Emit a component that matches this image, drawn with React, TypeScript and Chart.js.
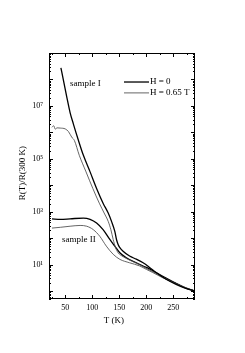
import React, { useEffect, useRef } from "react";
import { Chart, registerables } from "chart.js";

Chart.register(...registerables);

// ---- data (T in K, R(T)/R(300 K)) ----
const sampleI_H0_T = [42, 47, 53, 59, 65, 74.5, 83.6, 96, 108, 120, 129.5, 135.6, 141.7, 144.8, 147.8, 151, 157, 169, 181.5, 194, 206, 218, 236.5, 255, 273, 290];
const sampleI_H0_R = [2.75e8, 8.7e7, 2.1e7, 5.6e6, 2.1e6, 4.9e5, 1.35e5, 3.2e4, 7600, 2100, 890, 430, 180, 89, 58, 44, 32, 21, 16, 11.7, 7.8, 5.0, 2.8, 1.8, 1.26, 1.0];

const sampleI_H065_T = [25.5, 28.6, 31.7, 34.7, 40.8, 50, 56, 62, 67, 76, 88.5, 101, 113, 122, 129.5, 134.4, 138.7, 143, 147.8, 157, 172, 187.6, 206, 224, 242.6, 267, 290];
const sampleI_H065_R = [1.55e6, 1.78e6, 1.32e6, 1.48e6, 1.45e6, 1.35e6, 1.07e6, 6.6e5, 4.9e5, 1.35e5, 3.2e4, 7600, 2100, 890, 430, 210, 89, 44, 28, 20, 13.8, 9.8, 6.2, 4.0, 2.45, 1.5, 1.0];

const sampleII_H0_T = [25.5, 41, 59, 83.6, 96, 108, 120, 132.5, 141.7, 151, 163, 181.5, 200, 218, 236.5, 255, 273, 290];
const sampleII_H0_R = [537, 513, 537, 575, 513, 372, 209, 89, 50, 28, 18.2, 11.7, 7.8, 5.0, 3.1, 1.95, 1.29, 1.0];

const sampleII_H065_T = [25.5, 41, 59, 77.5, 89.7, 102, 114, 126, 138.7, 151, 169, 187.6, 200, 212, 230, 255, 273, 290];
const sampleII_H065_R = [240, 257, 282, 302, 282, 209, 117, 50, 24.5, 15.8, 11.7, 8.9, 6.6, 5.0, 3.2, 1.95, 1.29, 1.0];

const xTickValues = [50, 100, 150, 200, 250];
const yTickValues = [10, 1e3, 1e5, 1e7];
const yTickLabels = ["10\u00B9", "10\u00B3", "10\u2075", "10\u2077"];
const legendLabels = ["H = 0", "H = 0.65 T"];
const sampleLabels = ["sample I", "sample II"];
const xTitle = "T (K)";
const yTitle = "R(T)/R(300 K)";

const X_MIN = 20, X_MAX = 290, Y_MIN = 0.5, Y_MAX = 1e9;
const FONT = "'Liberation Serif', 'DejaVu Serif', serif";
const THICK = { color: "#000", width: 1.3 };
const THIN = { color: "#555", width: 0.9 };

const pts = (t: number[], r: number[]) => t.map((x, i) => ({ x, y: r[i] }));

const framePlugin = {
  id: "frame",
  afterDraw(chart: any) {
    const { ctx, chartArea: a, scales } = chart;
    const xs = scales.x, ys = scales.y;
    ctx.save();
    ctx.strokeStyle = "#000";
    ctx.lineWidth = 1;
    ctx.strokeRect(a.left + 0.5, a.top + 0.5, a.right - a.left - 1, a.bottom - a.top - 1);
    ctx.beginPath();
    // x ticks (inward, bottom and top)
    for (let t = 25; t <= X_MAX; t += 25) {
      if (t < X_MIN) continue;
      const px = Math.round(xs.getPixelForValue(t)) + 0.5;
      const len = t % 50 === 0 ? 4 : 2;
      ctx.moveTo(px, a.bottom); ctx.lineTo(px, a.bottom - len);
      ctx.moveTo(px, a.top); ctx.lineTo(px, a.top + len);
    }
    // y ticks (log, inward, left and right)
    for (let e = -1; e <= 9; e++) {
      for (let m = 1; m <= 9; m++) {
        const v = m * Math.pow(10, e);
        if (v < Y_MIN || v > Y_MAX) continue;
        const py = Math.round(ys.getPixelForValue(v)) + 0.5;
        const len = m === 1 ? 4 : 2;
        ctx.moveTo(a.left, py); ctx.lineTo(a.left + len, py);
        ctx.moveTo(a.right, py); ctx.lineTo(a.right - len, py);
      }
    }
    ctx.stroke();

    // axis titles
    ctx.fillStyle = "#000";
    ctx.font = `9px ${FONT}`;
    ctx.textAlign = "center";
    ctx.textBaseline = "middle";
    ctx.fillText(xTitle, xs.getPixelForValue(140), 321);
    ctx.save();
    ctx.translate(23, ys.getPixelForValue(2.9e4));
    ctx.rotate(-Math.PI / 2);
    ctx.fillText(yTitle, 0, 0);
    ctx.restore();

    // legend
    const lx0 = xs.getPixelForValue(158.7), lx1 = xs.getPixelForValue(205);
    const rows = [ys.getPixelForValue(8e7), ys.getPixelForValue(3.1e7)];
    const styles = [THICK, THIN];
    ctx.textAlign = "left";
    rows.forEach((ry, i) => {
      ctx.beginPath();
      ctx.strokeStyle = styles[i].color;
      ctx.lineWidth = styles[i].width;
      ctx.moveTo(lx0, ry); ctx.lineTo(lx1, ry);
      ctx.stroke();
      ctx.fillText(legendLabels[i], lx1 + 1, ry);
    });

    // sample labels
    ctx.fillText(sampleLabels[0], xs.getPixelForValue(58.8), ys.getPixelForValue(6.7e7));
    ctx.fillText(sampleLabels[1], xs.getPixelForValue(44), ys.getPixelForValue(89));
    ctx.restore();
  },
};

export default function App() {
  const ref = useRef<HTMLCanvasElement>(null);
  useEffect(() => {
    if (!ref.current) return;
    const mk = (label: string, t: number[], r: number[], s: { color: string; width: number }) => ({
      label,
      data: pts(t, r),
      borderColor: s.color,
      borderWidth: s.width,
      pointRadius: 0,
      fill: false,
      cubicInterpolationMode: "monotone" as const,
    });
    const chart = new Chart(ref.current, {
      type: "line",
      data: {
        datasets: [
          mk("sample I, H = 0", sampleI_H0_T, sampleI_H0_R, THICK),
          mk("sample I, H = 0.65 T", sampleI_H065_T, sampleI_H065_R, THIN),
          mk("sample II, H = 0", sampleII_H0_T, sampleII_H0_R, THICK),
          mk("sample II, H = 0.65 T", sampleII_H065_T, sampleII_H065_R, THIN),
        ],
      },
      options: {
        responsive: false,
        animation: false,
        layout: { padding: { left: 0, top: 53, right: 50, bottom: 0 } },
        plugins: { legend: { display: false }, tooltip: { enabled: false } },
        scales: {
          x: {
            type: "linear",
            min: X_MIN,
            max: X_MAX,
            grid: { display: false, drawTicks: false },
            border: { display: false },
            afterBuildTicks: (s: any) => { s.ticks = xTickValues.map((value) => ({ value })); },
            afterFit: (s: any) => { s.height = 54; },
            ticks: {
              color: "#000",
              font: { family: FONT, size: 8 },
              padding: 4,
              maxRotation: 0,
              autoSkip: false,
              callback: (v: any) => String(v),
            },
          },
          y: {
            type: "logarithmic",
            min: Y_MIN,
            max: Y_MAX,
            grid: { display: false, drawTicks: false },
            border: { display: false },
            afterBuildTicks: (s: any) => { s.ticks = yTickValues.map((value) => ({ value })); },
            afterFit: (s: any) => { s.width = 49; },
            ticks: {
              color: "#000",
              font: { family: FONT, size: 8 },
              padding: 6,
              autoSkip: false,
              callback: (v: any) => {
                const i = yTickValues.indexOf(Number(v));
                return i >= 0 ? yTickLabels[i] : "";
              },
            },
          },
        },
      },
      plugins: [framePlugin],
    });
    return () => chart.destroy();
  }, []);
  return (
    <div style={{ position: "absolute", left: 0, top: 0, width: 245, height: 353, background: "#fff" }}>
      <canvas ref={ref} width={245} height={353} style={{ width: 245, height: 353, display: "block" }} />
    </div>
  );
}
